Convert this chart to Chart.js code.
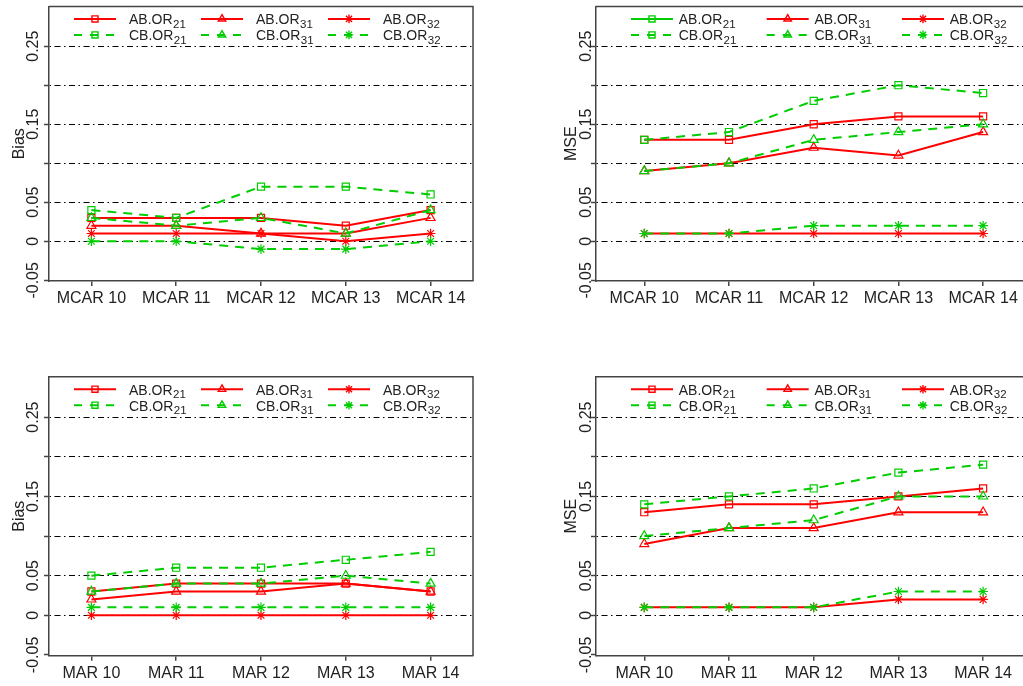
<!DOCTYPE html>
<html>
<head>
<meta charset="utf-8">
<script src="https://cdn.jsdelivr.net/npm/chart.js@4.4.1/dist/chart.umd.min.js"></script>
<style>
  html, body { margin: 0; padding: 0; width: 1023px; height: 686px; overflow: hidden; background: #fff; }
  canvas { position: absolute; }
</style>
</head>
<body>
<canvas id="c1" width="512" height="340" style="left:0px;top:0px"></canvas>
<canvas id="c2" width="560" height="340" style="left:520px;top:0px"></canvas>
<canvas id="c3" width="512" height="330" style="left:0px;top:360px"></canvas>
<canvas id="c4" width="560" height="330" style="left:520px;top:360px"></canvas>
<script>
// categories
var mcarLabels = ['MCAR 10', 'MCAR 11', 'MCAR 12', 'MCAR 13', 'MCAR 14'];
var marLabels = ['MAR 10', 'MAR 11', 'MAR 12', 'MAR 13', 'MAR 14'];
var seriesBase = ['AB.OR', 'AB.OR', 'AB.OR', 'CB.OR', 'CB.OR', 'CB.OR'];
var seriesSub = ['21', '31', '32', '21', '31', '32'];

// y axis ticks / labels
var yGridValues = [-0.05, 0, 0.05, 0.1, 0.15, 0.2, 0.25];
var yLabelValues = [-0.05, 0, 0.05, 0.15, 0.25];
var yLabelText = ['-0.05', '0', '0.05', '0.15', '0.25'];

// Bias, MCAR
var biasMcarAB21 = [0.03, 0.03, 0.03, 0.02, 0.04];
var biasMcarAB31 = [0.02, 0.02, 0.01, 0.01, 0.03];
var biasMcarAB32 = [0.01, 0.01, 0.01, 0.00, 0.01];
var biasMcarCB21 = [0.04, 0.03, 0.07, 0.07, 0.06];
var biasMcarCB31 = [0.03, 0.02, 0.03, 0.01, 0.04];
var biasMcarCB32 = [0.00, 0.00, -0.01, -0.01, 0.00];

// MSE, MCAR
var mseMcarAB21 = [0.13, 0.13, 0.15, 0.16, 0.16];
var mseMcarAB31 = [0.09, 0.10, 0.12, 0.11, 0.14];
var mseMcarAB32 = [0.01, 0.01, 0.01, 0.01, 0.01];
var mseMcarCB21 = [0.13, 0.14, 0.18, 0.20, 0.19];
var mseMcarCB31 = [0.09, 0.10, 0.13, 0.14, 0.15];
var mseMcarCB32 = [0.01, 0.01, 0.02, 0.02, 0.02];

// Bias, MAR
var biasMarAB21 = [0.03, 0.04, 0.04, 0.04, 0.03];
var biasMarAB31 = [0.02, 0.03, 0.03, 0.04, 0.03];
var biasMarAB32 = [0.00, 0.00, 0.00, 0.00, 0.00];
var biasMarCB21 = [0.05, 0.06, 0.06, 0.07, 0.08];
var biasMarCB31 = [0.03, 0.04, 0.04, 0.05, 0.04];
var biasMarCB32 = [0.01, 0.01, 0.01, 0.01, 0.01];

// MSE, MAR
var mseMarAB21 = [0.13, 0.14, 0.14, 0.15, 0.16];
var mseMarAB31 = [0.09, 0.11, 0.11, 0.13, 0.13];
var mseMarAB32 = [0.01, 0.01, 0.01, 0.02, 0.02];
var mseMarCB21 = [0.14, 0.15, 0.16, 0.18, 0.19];
var mseMarCB31 = [0.10, 0.11, 0.12, 0.15, 0.15];
var mseMarCB32 = [0.01, 0.01, 0.01, 0.03, 0.03];

var RED = '#ff0000';
var GREEN = '#00cd00';
var FONT = '"Liberation Sans", Arial, sans-serif';
var TEXT = '#222';
var AXIS = '#444';
var pointStyles = ['rect', 'triangle', 'star'];
var pointRadii = [5, 5.2, 4.8];

function makeDatasets(values) {
  return values.map(function(vals, i) {
    var isAB = i < 3;
    return {
      label: seriesBase[i] + seriesSub[i],
      data: vals.map(function(v, j) { return {x: j + 1, y: v}; }),
      borderColor: isAB ? RED : GREEN,
      borderWidth: 2,
      borderDash: isAB ? [] : [9, 7],
      pointStyle: pointStyles[i % 3],
      pointRadius: pointRadii[i % 3],
      pointBorderWidth: 1.2,
      pointBackgroundColor: 'rgba(0,0,0,0)',
      pointBorderColor: isAB ? RED : GREEN,
      fill: false,
      tension: 0,
      order: isAB ? 1 : 0
    };
  });
}

// axis labels, box, legend drawn like the R plot
var rPlot = {
  id: 'rPlot',
  afterDraw: function(chart, args, opts) {
    var ctx = chart.ctx, a = chart.chartArea, y = chart.scales.y;
    ctx.save();
    // top and right side of the box
    ctx.strokeStyle = AXIS;
    ctx.lineWidth = 1.5;
    ctx.setLineDash([]);
    ctx.beginPath();
    ctx.moveTo(a.left, a.top);
    ctx.lineTo(a.right, a.top);
    ctx.lineTo(a.right, a.bottom);
    ctx.stroke();

    // rotated y tick labels
    ctx.fillStyle = TEXT;
    ctx.font = '16px ' + FONT;
    ctx.textAlign = 'center';
    ctx.textBaseline = 'alphabetic';
    yLabelValues.forEach(function(v, i) {
      ctx.save();
      ctx.translate(a.left - opts.tickGap, y.getPixelForValue(v));
      ctx.rotate(-Math.PI / 2);
      ctx.fillText(yLabelText[i], 0, 0);
      ctx.restore();
    });
    // y title
    ctx.save();
    ctx.translate(a.left - opts.titleGap, (a.top + a.bottom) / 2);
    ctx.rotate(-Math.PI / 2);
    ctx.fillText(opts.title, 0, 0);
    ctx.restore();

    // legend
    ctx.textAlign = 'left';
    chart.data.datasets.forEach(function(ds, i) {
      var col = i % 3, row = Math.floor(i / 3);
      var x0 = a.left + opts.cols[col];
      var yy = a.top + opts.rows[row];
      var color = (opts.legendColors && opts.legendColors[i]) || ds.borderColor;
      ctx.strokeStyle = color;
      ctx.lineWidth = 2;
      ctx.setLineDash(ds.borderDash.length ? [8, 8] : []);
      ctx.beginPath();
      ctx.moveTo(x0, yy);
      ctx.lineTo(x0 + opts.lineLen, yy);
      ctx.stroke();
      ctx.setLineDash([]);
      ctx.fillStyle = 'rgba(0,0,0,0)';
      ctx.lineWidth = 1.4;
      Chart.helpers.drawPoint(ctx, {pointStyle: ds.pointStyle, rotation: 0, radius: 4.3, borderWidth: 1.4},
        x0 + opts.lineLen / 2, yy);
      ctx.fillStyle = TEXT;
      var tx = x0 + opts.textOffset;
      ctx.font = '14px ' + FONT;
      ctx.fillText(seriesBase[i], tx, yy + 5.5);
      var w = ctx.measureText(seriesBase[i]).width;
      ctx.font = '11.5px ' + FONT;
      ctx.fillText(seriesSub[i], tx + w + 0.5, yy + 9);
    });
    ctx.restore();
  }
};

function makeChart(p) {
  var canvas = document.getElementById(p.id);
  var H = canvas.height;
  return new Chart(canvas.getContext('2d'), {
    type: 'line',
    data: {datasets: makeDatasets(p.values)},
    plugins: [rPlot],
    options: {
      responsive: false,
      animation: false,
      devicePixelRatio: 1,
      layout: {padding: {top: p.top, right: canvas.width - p.right, left: 0, bottom: 0}},
      plugins: {
        legend: {display: false},
        tooltip: {enabled: false},
        rPlot: {
          title: p.title, tickGap: p.tickGap, titleGap: p.titleGap,
          cols: p.cols, rows: [12.5, 28.5], lineLen: 42, textOffset: p.textOffset,
          legendColors: p.legendColors
        }
      },
      scales: {
        x: {
          type: 'linear',
          min: p.xMin,
          max: p.xMax,
          afterBuildTicks: function(scale) {
            scale.ticks = p.labels.map(function(l, i) { return {value: i + 1}; });
          },
          afterFit: function(scale) { scale.height = H - p.bottom; },
          ticks: {
            autoSkip: false, maxRotation: 0, padding: 3, color: TEXT,
            font: {family: FONT, size: 16},
            callback: function(v) { return p.labels[v - 1]; }
          },
          grid: {drawOnChartArea: false, drawTicks: true, tickLength: 5, color: AXIS, lineWidth: 1.5},
          border: {display: true, color: AXIS, width: 1.5}
        },
        y: {
          type: 'linear',
          min: -0.051,
          max: 0.301,
          afterBuildTicks: function(scale) {
            scale.ticks = yGridValues.map(function(v) { return {value: v}; });
          },
          afterFit: function(scale) { scale.width = p.left; },
          ticks: {display: false},
          grid: {
            drawTicks: true, tickLength: 5, tickColor: AXIS, tickWidth: 1.5, lineWidth: 1,
            color: function(c) { return c.tick && c.tick.value < -0.01 ? 'rgba(0,0,0,0)' : '#000'; }
          },
          border: {display: true, color: AXIS, width: 1.5, dash: [1.5, 3.5, 6, 3.5]}
        }
      }
    }
  });
}

var leftCols = [25, 152, 279];
var rightCols = [35, 170.7, 306];

makeChart({id: 'c1', title: 'Bias', labels: mcarLabels,
  values: [biasMcarAB21, biasMcarAB31, biasMcarAB32, biasMcarCB21, biasMcarCB31, biasMcarCB32],
  left: 49, right: 473, top: 2.3, bottom: 281.1, xMin: 0.5, xMax: 5.5,
  tickGap: 10.7, titleGap: 25.5, cols: leftCols, textOffset: 55});

makeChart({id: 'c2', title: 'MSE', labels: mcarLabels,
  values: [mseMcarAB21, mseMcarAB31, mseMcarAB32, mseMcarCB21, mseMcarCB31, mseMcarCB32],
  left: 76, right: 511.4, top: 2.3, bottom: 281.1, xMin: 0.43, xMax: 5.57,
  tickGap: 5, titleGap: 20, cols: rightCols, textOffset: 47.7,
  legendColors: [GREEN]});

makeChart({id: 'c3', title: 'Bias', labels: marLabels,
  values: [biasMarAB21, biasMarAB31, biasMarAB32, biasMarCB21, biasMarCB31, biasMarCB32],
  left: 49, right: 473, top: 16.7, bottom: 295.7, xMin: 0.5, xMax: 5.5,
  tickGap: 10.7, titleGap: 25.5, cols: leftCols, textOffset: 55});

makeChart({id: 'c4', title: 'MSE', labels: marLabels,
  values: [mseMarAB21, mseMarAB31, mseMarAB32, mseMarCB21, mseMarCB31, mseMarCB32],
  left: 76, right: 511.4, top: 16.7, bottom: 295.7, xMin: 0.43, xMax: 5.57,
  tickGap: 5, titleGap: 20, cols: rightCols, textOffset: 47.7});
</script>
</body>
</html>
